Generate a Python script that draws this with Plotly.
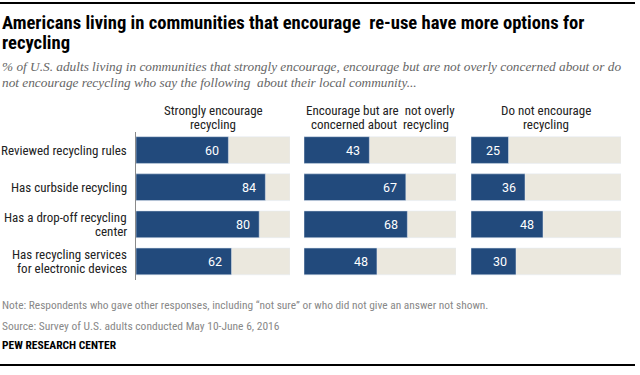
import plotly.graph_objects as go

rows = ["Reviewed recycling rules", "Has curbside recycling",
        "Has a drop-off recycling<br>center", "Has recycling services<br>for electronic devices"]
groups = ["Strongly encourage<br>recycling",
          "Encourage but are  not overly<br>concerned about  recycling",
          "Do not encourage<br>recycling"]
strong = [60, 84, 80, 62]
encourage = [43, 67, 68, 48]
not_enc = [25, 36, 48, 30]
series = [strong, encourage, not_enc]

W, H = 640, 375
NAVY = "#224a7c"
BEIGE = "#ebe8de"
SANS = "Roboto, Liberation Sans, Arial, sans-serif"
NARROW = "Liberation Sans Narrow, Roboto Condensed, Arial Narrow, sans-serif"

xdoms = [(136, 290), (304, 456), (471, 621)]
ytop, ybot = 131.5, 280

fig = go.Figure()
for i, vals in enumerate(series):
    xa = "x" if i == 0 else f"x{i+1}"
    ya = "y" if i == 0 else f"y{i+1}"
    fig.add_trace(go.Bar(y=rows, x=[100]*len(rows), orientation="h", marker_color=BEIGE,
                         width=0.72, xaxis=xa, yaxis=ya, hoverinfo="skip", showlegend=False))
    fig.add_trace(go.Bar(y=rows, x=vals, orientation="h", marker_color=NAVY,
                         width=0.72, xaxis=xa, yaxis=ya, showlegend=False))
    for r, v in zip(rows, vals):
        fig.add_annotation(x=v, y=r, xref=xa, yref=ya, text=str(v), showarrow=False,
                           xanchor="right", xshift=-7, font=dict(family=SANS, size=12.5, color="white"))
    d = xdoms[i]
    layout_x = dict(domain=[d[0]/W, d[1]/W], range=[0, 100], visible=False, fixedrange=True)
    layout_y = dict(domain=[1-ybot/H, 1-ytop/H], range=[3.5, -0.5], type="category",
                    showticklabels=False, ticks="", showgrid=False, zeroline=False,
                    showline=(i == 0), linecolor="#8a8a8a", linewidth=1, fixedrange=True)
    if i > 0:
        layout_x["anchor"] = ya
        layout_y["anchor"] = xa
    fig.update_layout(**{("xaxis" if i == 0 else f"xaxis{i+1}"): layout_x,
                         ("yaxis" if i == 0 else f"yaxis{i+1}"): layout_y})
    for k, line in enumerate(groups[i].split("<br>")):
        fig.add_annotation(x=(d[0]+d[1])/2/W, y=1-(110.5+14*k)/H, xref="paper", yref="paper",
                           text=line, showarrow=False, xanchor="center", yanchor="middle",
                           font=dict(family=NARROW, size=13, color="#222"))

for r in rows:
    lines = r.split("<br>")
    n = len(lines)
    for k, line in enumerate(lines):
        fig.add_annotation(x=135/W, y=r, xref="paper", yref="y", text=line, showarrow=False,
                           xanchor="right", xshift=-6, yshift=(n-1)*7 - 14*k,
                           font=dict(family=NARROW, size=13, color="#222"))

# top and bottom rules as one path shape (paper coordinates)
yt, yb = 1 - 3/H, 1 - 365/H
xr = 635/W
fig.add_shape(type="path", xref="paper", yref="paper",
              path=f"M 0 {yt} L {xr} {yt} M 0 {yb} L {xr} {yb}",
              line=dict(color="black", width=2))

def txt(x, y, s, size, color, family):
    fig.add_annotation(x=x/W, y=1-y/H, xref="paper", yref="paper", text=s, showarrow=False,
                       xanchor="left", yanchor="middle", align="left",
                       font=dict(family=family, size=size, color=color))

txt(0, 23, "<b>Americans living in communities that encourage  re-use have more options for</b>", 18.6, "black", NARROW)
txt(0, 43, "<b>recycling</b>", 18.6, "black", NARROW)
txt(0, 67, "<i>% of U.S. adults living in communities that strongly encourage, encourage but are not overly concerned about or do</i>",
    13.3, "#666", "Liberation Serif, serif")
txt(0, 82.5, "<i>not encourage recycling who say the following  about their local community...</i>",
    13.3, "#666", "Liberation Serif, serif")
txt(0, 304.5, "Note: Respondents who gave other responses, including \u201cnot sure\u201d or who did not give an answer not shown.",
    11.4, "#888", NARROW)
txt(0, 325.5, "Source: Survey of U.S. adults conducted May 10-June 6, 2016", 11.5, "#888", NARROW)
txt(0, 345, "<b>PEW RESEARCH CENTER</b>", 11.5, "black", NARROW)

fig.update_layout(width=W, height=H, margin=dict(l=0, r=0, t=0, b=0),
                  paper_bgcolor="white", plot_bgcolor="white", barmode="overlay",
                  bargap=0, hovermode=False)
fig.write_html("out.html", config={"displayModeBar": False, "staticPlot": True},
               post_script="document.body.style.margin='0';document.body.style.padding='0';")
